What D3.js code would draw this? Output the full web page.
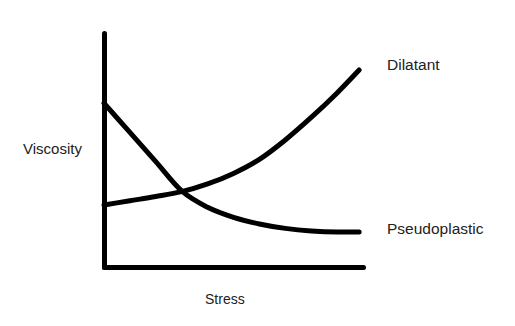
<!DOCTYPE html>
<html>
<head>
<meta charset="utf-8">
<script src="https://cdn.jsdelivr.net/npm/d3@7"></script>
<style>
  html, body { margin: 0; padding: 0; background: #fff; }
  svg text { font-family: "Liberation Sans", Arial, sans-serif; fill: #222; }
</style>
</head>
<body>
<svg id="chart" width="515" height="326"></svg>
<script>
// stress (arbitrary units) and viscosity readings
const stress = [0, 1, 2, 3, 4, 5, 6, 7, 8, 9, 9.85];
const dilatant = [2.65, 2.83, 3.01, 3.22, 3.55, 4.0, 4.6, 5.43, 6.39, 7.44, 8.42];
const pseudoplastic = [7.0, 5.75, 4.5, 3.25, 2.55, 2.12, 1.84, 1.65, 1.54, 1.5, 1.5];
const seriesNames = ['Dilatant', 'Pseudoplastic'];
const xTitle = 'Stress';
const yTitle = 'Viscosity';

const svg = d3.select('#chart');
const margin = { top: 33, right: 152, bottom: 59, left: 104 };
const width = 515;
const height = 326;

const x = d3.scaleLinear().domain([0, 10]).range([margin.left, width - margin.right]);
const y = d3.scaleLinear().domain([0, 10]).range([height - margin.bottom, margin.top]);

const line = d3.line()
  .x(d => x(d[0]))
  .y(d => y(d[1]))
  .curve(d3.curveMonotoneX);

const curves = [dilatant, pseudoplastic].map(vals => stress.map((s, i) => [s, vals[i]]));

svg.append('g')
  .selectAll('path')
  .data(curves)
  .join('path')
  .attr('d', line)
  .attr('fill', 'none')
  .attr('stroke', '#000')
  .attr('stroke-width', 5)
  .attr('stroke-linecap', 'round');

// axes: plain thick lines without ticks
const xAxis = d3.axisBottom(x).tickValues([]).tickSizeOuter(0);
const yAxis = d3.axisLeft(y).tickValues([]).tickSizeOuter(0);
svg.append('g').attr('transform', `translate(0,${y(0)})`).call(xAxis)
  .select('.domain').attr('stroke-width', 5).attr('stroke-linecap', 'round');
svg.append('g').attr('transform', `translate(${x(0)},0)`).call(yAxis)
  .select('.domain').attr('stroke-width', 5).attr('stroke-linecap', 'round');

svg.append('text').attr('x', 23).attr('y', 154).attr('font-size', 15).text(yTitle);
svg.append('text').attr('x', 205).attr('y', 304).attr('font-size', 14).text(xTitle);
svg.append('text').attr('x', 387).attr('y', 70).attr('font-size', 15.5).text(seriesNames[0]);
svg.append('text').attr('x', 387).attr('y', 234).attr('font-size', 15.5).text(seriesNames[1]);
</script>
</body>
</html>
